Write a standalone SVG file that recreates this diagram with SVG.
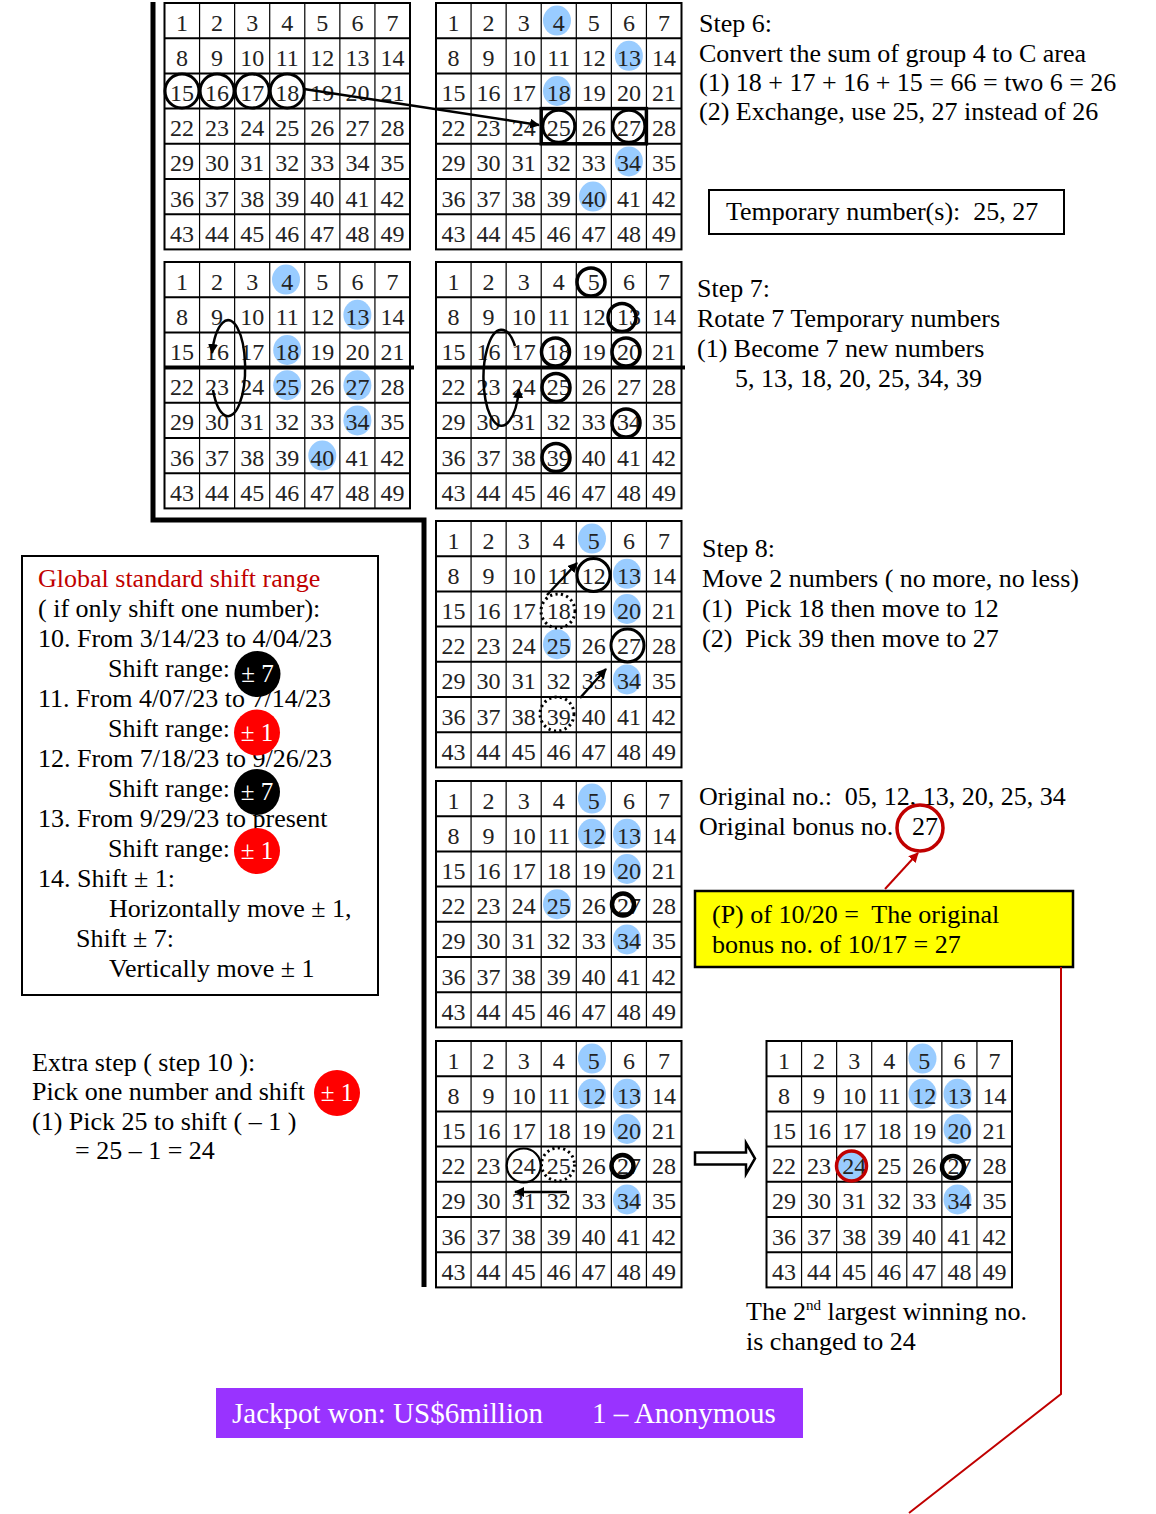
<svg xmlns="http://www.w3.org/2000/svg" xmlns:xlink="http://www.w3.org/1999/xlink" width="1156" height="1514" viewBox="0 0 1156 1514">
<style>
.n text{font-family:"Liberation Serif",serif;font-size:24px;fill:#222;text-anchor:middle}
.t{font-family:"Liberation Serif",serif;font-size:26px;fill:#000;white-space:pre}
.w{font-family:"Liberation Serif",serif;font-size:25px;fill:#fff;text-anchor:middle}
.blue{fill:#99CCFF}
.ring{fill:none;stroke:#000;stroke-width:3}
.ring4{fill:none;stroke:#000;stroke-width:3.5}
.thick{fill:none;stroke:#000;stroke-width:4.5}
.dot{fill:none;stroke:#000;stroke-width:3;stroke-dasharray:2.2 3.3}
.arr{fill:none;stroke:#000;stroke-width:2.5;marker-end:url(#ah)}
</style>
<defs>
<marker id="ah" viewBox="0 0 10 10" refX="9" refY="5" markerWidth="4" markerHeight="4" orient="auto" markerUnits="strokeWidth"><path d="M0 0L10 5L0 10z" fill="#000"/></marker>
<marker id="ahr" viewBox="0 0 10 10" refX="9" refY="5" markerWidth="5" markerHeight="5" orient="auto" markerUnits="strokeWidth"><path d="M0 0L10 5L0 10z" fill="#C00000"/></marker>
<g id="grid" fill="none" stroke="#000">
<path d="M35.07 0V246.4M70.14 0V246.4M105.21 0V246.4M140.29 0V246.4M175.36 0V246.4M210.43 0V246.4" stroke-width="1.2"/>
<path d="M0 35.2H245.5M0 70.4H245.5M0 105.6H245.5M0 140.8H245.5M0 176H245.5M0 211.2H245.5" stroke-width="2"/>
<rect x="0" y="0" width="245.5" height="246.4" stroke-width="2"/>
</g>
</defs>
<rect width="1156" height="1514" fill="#fff"/>

<g id="separator" fill="none" stroke="#000" stroke-width="5">
<path d="M153 2V520H424V1287"/>
</g>

<g id="grid1">
<use href="#grid" x="164.5" y="3"/>
<g class="n" transform="translate(164.5,3)">
<text y="27.5"><tspan x="17.5">1</tspan><tspan x="52.6">2</tspan><tspan x="87.7">3</tspan><tspan x="122.7">4</tspan><tspan x="157.8">5</tspan><tspan x="192.9">6</tspan><tspan x="228">7</tspan></text>
<text y="62.7"><tspan x="17.5">8</tspan><tspan x="52.6">9</tspan><tspan x="87.7">10</tspan><tspan x="122.7">11</tspan><tspan x="157.8">12</tspan><tspan x="192.9">13</tspan><tspan x="228">14</tspan></text>
<text y="97.9"><tspan x="17.5">15</tspan><tspan x="52.6">16</tspan><tspan x="87.7">17</tspan><tspan x="122.7">18</tspan><tspan x="157.8">19</tspan><tspan x="192.9">20</tspan><tspan x="228">21</tspan></text>
<text y="133.1"><tspan x="17.5">22</tspan><tspan x="52.6">23</tspan><tspan x="87.7">24</tspan><tspan x="122.7">25</tspan><tspan x="157.8">26</tspan><tspan x="192.9">27</tspan><tspan x="228">28</tspan></text>
<text y="168.3"><tspan x="17.5">29</tspan><tspan x="52.6">30</tspan><tspan x="87.7">31</tspan><tspan x="122.7">32</tspan><tspan x="157.8">33</tspan><tspan x="192.9">34</tspan><tspan x="228">35</tspan></text>
<text y="203.5"><tspan x="17.5">36</tspan><tspan x="52.6">37</tspan><tspan x="87.7">38</tspan><tspan x="122.7">39</tspan><tspan x="157.8">40</tspan><tspan x="192.9">41</tspan><tspan x="228">42</tspan></text>
<text y="238.7"><tspan x="17.5">43</tspan><tspan x="52.6">44</tspan><tspan x="87.7">45</tspan><tspan x="122.7">46</tspan><tspan x="157.8">47</tspan><tspan x="192.9">48</tspan><tspan x="228">49</tspan></text>
</g>
<circle class="ring" cx="182" cy="91" r="17"/>
<circle class="ring" cx="217.1" cy="91" r="17"/>
<circle class="ring" cx="252.2" cy="91" r="17"/>
<circle class="ring" cx="287.2" cy="91" r="17"/>
</g>

<g id="grid2">
<ellipse class="blue" cx="557" cy="20.6" rx="14" ry="15"/>
<ellipse class="blue" cx="628.9" cy="55.8" rx="14" ry="15"/>
<ellipse class="blue" cx="557" cy="91" rx="14" ry="15"/>
<ellipse class="blue" cx="628.9" cy="161.4" rx="14" ry="15"/>
<ellipse class="blue" cx="593" cy="196.6" rx="14" ry="15"/>
<use href="#grid" x="436" y="3"/>
<g class="n" transform="translate(436,3)">
<text y="27.5"><tspan x="17.5">1</tspan><tspan x="52.6">2</tspan><tspan x="87.7">3</tspan><tspan x="122.7">4</tspan><tspan x="157.8">5</tspan><tspan x="192.9">6</tspan><tspan x="228">7</tspan></text>
<text y="62.7"><tspan x="17.5">8</tspan><tspan x="52.6">9</tspan><tspan x="87.7">10</tspan><tspan x="122.7">11</tspan><tspan x="157.8">12</tspan><tspan x="192.9">13</tspan><tspan x="228">14</tspan></text>
<text y="97.9"><tspan x="17.5">15</tspan><tspan x="52.6">16</tspan><tspan x="87.7">17</tspan><tspan x="122.7">18</tspan><tspan x="157.8">19</tspan><tspan x="192.9">20</tspan><tspan x="228">21</tspan></text>
<text y="133.1"><tspan x="17.5">22</tspan><tspan x="52.6">23</tspan><tspan x="87.7">24</tspan><tspan x="122.7">25</tspan><tspan x="157.8">26</tspan><tspan x="192.9">27</tspan><tspan x="228">28</tspan></text>
<text y="168.3"><tspan x="17.5">29</tspan><tspan x="52.6">30</tspan><tspan x="87.7">31</tspan><tspan x="122.7">32</tspan><tspan x="157.8">33</tspan><tspan x="192.9">34</tspan><tspan x="228">35</tspan></text>
<text y="203.5"><tspan x="17.5">36</tspan><tspan x="52.6">37</tspan><tspan x="87.7">38</tspan><tspan x="122.7">39</tspan><tspan x="157.8">40</tspan><tspan x="192.9">41</tspan><tspan x="228">42</tspan></text>
<text y="238.7"><tspan x="17.5">43</tspan><tspan x="52.6">44</tspan><tspan x="87.7">45</tspan><tspan x="122.7">46</tspan><tspan x="157.8">47</tspan><tspan x="192.9">48</tspan><tspan x="228">49</tspan></text>
</g>
<rect x="541.2" y="108.6" width="105.2" height="35.2" fill="none" stroke="#000" stroke-width="3.5"/>
<circle class="ring" cx="558.8" cy="126.2" r="16"/>
<circle class="ring" cx="628.9" cy="126.2" r="16"/>
</g>

<g id="grid3">
<ellipse class="blue" cx="286" cy="279.6" rx="14" ry="15"/>
<ellipse class="blue" cx="357.4" cy="314.8" rx="14" ry="15"/>
<ellipse class="blue" cx="287.2" cy="350" rx="14" ry="15"/>
<ellipse class="blue" cx="287.2" cy="385.2" rx="14" ry="15"/>
<ellipse class="blue" cx="357.4" cy="385.2" rx="14" ry="15"/>
<ellipse class="blue" cx="357.4" cy="420.4" rx="14" ry="15"/>
<ellipse class="blue" cx="322.3" cy="455.6" rx="14" ry="15"/>
<use href="#grid" x="164.5" y="262"/>
<g class="n" transform="translate(164.5,262)">
<text y="27.5"><tspan x="17.5">1</tspan><tspan x="52.6">2</tspan><tspan x="87.7">3</tspan><tspan x="122.7">4</tspan><tspan x="157.8">5</tspan><tspan x="192.9">6</tspan><tspan x="228">7</tspan></text>
<text y="62.7"><tspan x="17.5">8</tspan><tspan x="52.6">9</tspan><tspan x="87.7">10</tspan><tspan x="122.7">11</tspan><tspan x="157.8">12</tspan><tspan x="192.9">13</tspan><tspan x="228">14</tspan></text>
<text y="97.9"><tspan x="17.5">15</tspan><tspan x="52.6">16</tspan><tspan x="87.7">17</tspan><tspan x="122.7">18</tspan><tspan x="157.8">19</tspan><tspan x="192.9">20</tspan><tspan x="228">21</tspan></text>
<text y="133.1"><tspan x="17.5">22</tspan><tspan x="52.6">23</tspan><tspan x="87.7">24</tspan><tspan x="122.7">25</tspan><tspan x="157.8">26</tspan><tspan x="192.9">27</tspan><tspan x="228">28</tspan></text>
<text y="168.3"><tspan x="17.5">29</tspan><tspan x="52.6">30</tspan><tspan x="87.7">31</tspan><tspan x="122.7">32</tspan><tspan x="157.8">33</tspan><tspan x="192.9">34</tspan><tspan x="228">35</tspan></text>
<text y="203.5"><tspan x="17.5">36</tspan><tspan x="52.6">37</tspan><tspan x="87.7">38</tspan><tspan x="122.7">39</tspan><tspan x="157.8">40</tspan><tspan x="192.9">41</tspan><tspan x="228">42</tspan></text>
<text y="238.7"><tspan x="17.5">43</tspan><tspan x="52.6">44</tspan><tspan x="87.7">45</tspan><tspan x="122.7">46</tspan><tspan x="157.8">47</tspan><tspan x="192.9">48</tspan><tspan x="228">49</tspan></text>
</g>
<path d="M164.5 367.6H414" stroke="#000" stroke-width="4"/>
<path class="arr" d="M213 390A17 48 0 1 0 212 353"/>
</g>

<g id="grid4">
<use href="#grid" x="436" y="262"/>
<g class="n" transform="translate(436,262)">
<text y="27.5"><tspan x="17.5">1</tspan><tspan x="52.6">2</tspan><tspan x="87.7">3</tspan><tspan x="122.7">4</tspan><tspan x="157.8">5</tspan><tspan x="192.9">6</tspan><tspan x="228">7</tspan></text>
<text y="62.7"><tspan x="17.5">8</tspan><tspan x="52.6">9</tspan><tspan x="87.7">10</tspan><tspan x="122.7">11</tspan><tspan x="157.8">12</tspan><tspan x="192.9">13</tspan><tspan x="228">14</tspan></text>
<text y="97.9"><tspan x="17.5">15</tspan><tspan x="52.6">16</tspan><tspan x="87.7">17</tspan><tspan x="122.7">18</tspan><tspan x="157.8">19</tspan><tspan x="192.9">20</tspan><tspan x="228">21</tspan></text>
<text y="133.1"><tspan x="17.5">22</tspan><tspan x="52.6">23</tspan><tspan x="87.7">24</tspan><tspan x="122.7">25</tspan><tspan x="157.8">26</tspan><tspan x="192.9">27</tspan><tspan x="228">28</tspan></text>
<text y="168.3"><tspan x="17.5">29</tspan><tspan x="52.6">30</tspan><tspan x="87.7">31</tspan><tspan x="122.7">32</tspan><tspan x="157.8">33</tspan><tspan x="192.9">34</tspan><tspan x="228">35</tspan></text>
<text y="203.5"><tspan x="17.5">36</tspan><tspan x="52.6">37</tspan><tspan x="87.7">38</tspan><tspan x="122.7">39</tspan><tspan x="157.8">40</tspan><tspan x="192.9">41</tspan><tspan x="228">42</tspan></text>
<text y="238.7"><tspan x="17.5">43</tspan><tspan x="52.6">44</tspan><tspan x="87.7">45</tspan><tspan x="122.7">46</tspan><tspan x="157.8">47</tspan><tspan x="192.9">48</tspan><tspan x="228">49</tspan></text>
</g>
<path d="M436 367.6H685" stroke="#000" stroke-width="4"/>
<circle class="ring4" cx="591" cy="282" r="14"/>
<circle class="ring4" cx="622" cy="317.5" r="14"/>
<circle class="ring4" cx="555.5" cy="352" r="14"/>
<circle class="ring4" cx="626" cy="352" r="14"/>
<circle class="ring4" cx="556" cy="387.5" r="14"/>
<circle class="ring4" cx="626" cy="423" r="14"/>
<circle class="ring4" cx="556" cy="457.5" r="14"/>
<path class="arr" d="M515 346A18 48 0 1 0 519 389"/>
</g>

<g id="grid5">
<ellipse class="blue" cx="592" cy="538.6" rx="14" ry="15"/>
<ellipse class="blue" cx="627" cy="573.8" rx="14" ry="15"/>
<ellipse class="blue" cx="627" cy="609" rx="14" ry="15"/>
<ellipse class="blue" cx="557" cy="644.2" rx="14" ry="15"/>
<ellipse class="blue" cx="627" cy="679.4" rx="14" ry="15"/>
<use href="#grid" x="436" y="521"/>
<g class="n" transform="translate(436,521)">
<text y="27.5"><tspan x="17.5">1</tspan><tspan x="52.6">2</tspan><tspan x="87.7">3</tspan><tspan x="122.7">4</tspan><tspan x="157.8">5</tspan><tspan x="192.9">6</tspan><tspan x="228">7</tspan></text>
<text y="62.7"><tspan x="17.5">8</tspan><tspan x="52.6">9</tspan><tspan x="87.7">10</tspan><tspan x="122.7">11</tspan><tspan x="157.8">12</tspan><tspan x="192.9">13</tspan><tspan x="228">14</tspan></text>
<text y="97.9"><tspan x="17.5">15</tspan><tspan x="52.6">16</tspan><tspan x="87.7">17</tspan><tspan x="122.7">18</tspan><tspan x="157.8">19</tspan><tspan x="192.9">20</tspan><tspan x="228">21</tspan></text>
<text y="133.1"><tspan x="17.5">22</tspan><tspan x="52.6">23</tspan><tspan x="87.7">24</tspan><tspan x="122.7">25</tspan><tspan x="157.8">26</tspan><tspan x="192.9">27</tspan><tspan x="228">28</tspan></text>
<text y="168.3"><tspan x="17.5">29</tspan><tspan x="52.6">30</tspan><tspan x="87.7">31</tspan><tspan x="122.7">32</tspan><tspan x="157.8">33</tspan><tspan x="192.9">34</tspan><tspan x="228">35</tspan></text>
<text y="203.5"><tspan x="17.5">36</tspan><tspan x="52.6">37</tspan><tspan x="87.7">38</tspan><tspan x="122.7">39</tspan><tspan x="157.8">40</tspan><tspan x="192.9">41</tspan><tspan x="228">42</tspan></text>
<text y="238.7"><tspan x="17.5">43</tspan><tspan x="52.6">44</tspan><tspan x="87.7">45</tspan><tspan x="122.7">46</tspan><tspan x="157.8">47</tspan><tspan x="192.9">48</tspan><tspan x="228">49</tspan></text>
</g>
<circle class="ring" cx="593.5" cy="575" r="16.5"/>
<circle class="ring" cx="627.5" cy="645.5" r="16.5"/>
<circle class="dot" cx="558" cy="611" r="17"/>
<circle class="dot" cx="557" cy="714" r="17"/>
<path class="arr" d="M547 595L577 563"/>
<path class="arr" d="M580 698L606 669"/>
</g>

<g id="grid6">
<ellipse class="blue" cx="592" cy="798.6" rx="14" ry="15"/>
<ellipse class="blue" cx="592" cy="833.8" rx="14" ry="15"/>
<ellipse class="blue" cx="627" cy="833.8" rx="14" ry="15"/>
<ellipse class="blue" cx="627" cy="869" rx="14" ry="15"/>
<ellipse class="blue" cx="557" cy="904.2" rx="14" ry="15"/>
<ellipse class="blue" cx="627" cy="939.4" rx="14" ry="15"/>
<use href="#grid" x="436" y="781"/>
<g class="n" transform="translate(436,781)">
<text y="27.5"><tspan x="17.5">1</tspan><tspan x="52.6">2</tspan><tspan x="87.7">3</tspan><tspan x="122.7">4</tspan><tspan x="157.8">5</tspan><tspan x="192.9">6</tspan><tspan x="228">7</tspan></text>
<text y="62.7"><tspan x="17.5">8</tspan><tspan x="52.6">9</tspan><tspan x="87.7">10</tspan><tspan x="122.7">11</tspan><tspan x="157.8">12</tspan><tspan x="192.9">13</tspan><tspan x="228">14</tspan></text>
<text y="97.9"><tspan x="17.5">15</tspan><tspan x="52.6">16</tspan><tspan x="87.7">17</tspan><tspan x="122.7">18</tspan><tspan x="157.8">19</tspan><tspan x="192.9">20</tspan><tspan x="228">21</tspan></text>
<text y="133.1"><tspan x="17.5">22</tspan><tspan x="52.6">23</tspan><tspan x="87.7">24</tspan><tspan x="122.7">25</tspan><tspan x="157.8">26</tspan><tspan x="192.9">27</tspan><tspan x="228">28</tspan></text>
<text y="168.3"><tspan x="17.5">29</tspan><tspan x="52.6">30</tspan><tspan x="87.7">31</tspan><tspan x="122.7">32</tspan><tspan x="157.8">33</tspan><tspan x="192.9">34</tspan><tspan x="228">35</tspan></text>
<text y="203.5"><tspan x="17.5">36</tspan><tspan x="52.6">37</tspan><tspan x="87.7">38</tspan><tspan x="122.7">39</tspan><tspan x="157.8">40</tspan><tspan x="192.9">41</tspan><tspan x="228">42</tspan></text>
<text y="238.7"><tspan x="17.5">43</tspan><tspan x="52.6">44</tspan><tspan x="87.7">45</tspan><tspan x="122.7">46</tspan><tspan x="157.8">47</tspan><tspan x="192.9">48</tspan><tspan x="228">49</tspan></text>
</g>
<circle class="thick" cx="623" cy="904.5" r="11"/>
</g>

<g id="grid7">
<ellipse class="blue" cx="592" cy="1058.6" rx="14" ry="15"/>
<ellipse class="blue" cx="592" cy="1093.8" rx="14" ry="15"/>
<ellipse class="blue" cx="627" cy="1093.8" rx="14" ry="15"/>
<ellipse class="blue" cx="627" cy="1129" rx="14" ry="15"/>
<ellipse class="blue" cx="627" cy="1199.4" rx="14" ry="15"/>
<use href="#grid" x="436" y="1041"/>
<g class="n" transform="translate(436,1041)">
<text y="27.5"><tspan x="17.5">1</tspan><tspan x="52.6">2</tspan><tspan x="87.7">3</tspan><tspan x="122.7">4</tspan><tspan x="157.8">5</tspan><tspan x="192.9">6</tspan><tspan x="228">7</tspan></text>
<text y="62.7"><tspan x="17.5">8</tspan><tspan x="52.6">9</tspan><tspan x="87.7">10</tspan><tspan x="122.7">11</tspan><tspan x="157.8">12</tspan><tspan x="192.9">13</tspan><tspan x="228">14</tspan></text>
<text y="97.9"><tspan x="17.5">15</tspan><tspan x="52.6">16</tspan><tspan x="87.7">17</tspan><tspan x="122.7">18</tspan><tspan x="157.8">19</tspan><tspan x="192.9">20</tspan><tspan x="228">21</tspan></text>
<text y="133.1"><tspan x="17.5">22</tspan><tspan x="52.6">23</tspan><tspan x="87.7">24</tspan><tspan x="122.7">25</tspan><tspan x="157.8">26</tspan><tspan x="192.9">27</tspan><tspan x="228">28</tspan></text>
<text y="168.3"><tspan x="17.5">29</tspan><tspan x="52.6">30</tspan><tspan x="87.7">31</tspan><tspan x="122.7">32</tspan><tspan x="157.8">33</tspan><tspan x="192.9">34</tspan><tspan x="228">35</tspan></text>
<text y="203.5"><tspan x="17.5">36</tspan><tspan x="52.6">37</tspan><tspan x="87.7">38</tspan><tspan x="122.7">39</tspan><tspan x="157.8">40</tspan><tspan x="192.9">41</tspan><tspan x="228">42</tspan></text>
<text y="238.7"><tspan x="17.5">43</tspan><tspan x="52.6">44</tspan><tspan x="87.7">45</tspan><tspan x="122.7">46</tspan><tspan x="157.8">47</tspan><tspan x="192.9">48</tspan><tspan x="228">49</tspan></text>
</g>
<circle cx="523.7" cy="1165.5" r="17" fill="none" stroke="#000" stroke-width="2.2"/>
<circle class="dot" cx="558" cy="1164.5" r="16.5"/>
<circle class="thick" cx="622.5" cy="1166" r="11"/>
<path class="arr" d="M567 1192H515"/>
</g>

<g id="grid8">
<ellipse class="blue" cx="922.5" cy="1058.6" rx="14" ry="15"/>
<ellipse class="blue" cx="922.5" cy="1093.8" rx="14" ry="15"/>
<ellipse class="blue" cx="957.5" cy="1093.8" rx="14" ry="15"/>
<ellipse class="blue" cx="957.5" cy="1129" rx="14" ry="15"/>
<ellipse class="blue" cx="851.5" cy="1165.5" rx="14" ry="15"/>
<ellipse class="blue" cx="957.5" cy="1199.4" rx="14" ry="15"/>
<use href="#grid" x="766.5" y="1041"/>
<g class="n" transform="translate(766.5,1041)">
<text y="27.5"><tspan x="17.5">1</tspan><tspan x="52.6">2</tspan><tspan x="87.7">3</tspan><tspan x="122.7">4</tspan><tspan x="157.8">5</tspan><tspan x="192.9">6</tspan><tspan x="228">7</tspan></text>
<text y="62.7"><tspan x="17.5">8</tspan><tspan x="52.6">9</tspan><tspan x="87.7">10</tspan><tspan x="122.7">11</tspan><tspan x="157.8">12</tspan><tspan x="192.9">13</tspan><tspan x="228">14</tspan></text>
<text y="97.9"><tspan x="17.5">15</tspan><tspan x="52.6">16</tspan><tspan x="87.7">17</tspan><tspan x="122.7">18</tspan><tspan x="157.8">19</tspan><tspan x="192.9">20</tspan><tspan x="228">21</tspan></text>
<text y="133.1"><tspan x="17.5">22</tspan><tspan x="52.6">23</tspan><tspan x="87.7">24</tspan><tspan x="122.7">25</tspan><tspan x="157.8">26</tspan><tspan x="192.9">27</tspan><tspan x="228">28</tspan></text>
<text y="168.3"><tspan x="17.5">29</tspan><tspan x="52.6">30</tspan><tspan x="87.7">31</tspan><tspan x="122.7">32</tspan><tspan x="157.8">33</tspan><tspan x="192.9">34</tspan><tspan x="228">35</tspan></text>
<text y="203.5"><tspan x="17.5">36</tspan><tspan x="52.6">37</tspan><tspan x="87.7">38</tspan><tspan x="122.7">39</tspan><tspan x="157.8">40</tspan><tspan x="192.9">41</tspan><tspan x="228">42</tspan></text>
<text y="238.7"><tspan x="17.5">43</tspan><tspan x="52.6">44</tspan><tspan x="87.7">45</tspan><tspan x="122.7">46</tspan><tspan x="157.8">47</tspan><tspan x="192.9">48</tspan><tspan x="228">49</tspan></text>
</g>
<circle cx="851.5" cy="1166" r="15" fill="none" stroke="#C00000" stroke-width="3.5"/>
<circle class="thick" cx="953" cy="1167" r="11"/>
</g>

<g id="step6">
<text class="t" x="699" y="32">Step 6:</text>
<text class="t" x="699" y="62">Convert the sum of group 4 to C area</text>
<text class="t" x="699" y="91">(1) 18 + 17 + 16 + 15 = 66 = two 6 = 26</text>
<text class="t" x="699" y="120">(2) Exchange, use 25, 27 instead of 26</text>
</g>

<g id="temporary">
<rect x="709" y="190" width="355" height="44" fill="#fff" stroke="#000" stroke-width="2"/>
<text class="t" x="726" y="220">Temporary number(s):  25, 27</text>
</g>

<g id="step7">
<text class="t" x="697" y="297">Step 7:</text>
<text class="t" x="697" y="327">Rotate 7 Temporary numbers</text>
<text class="t" x="697" y="357">(1) Become 7 new numbers</text>
<text class="t" x="735" y="387">5, 13, 18, 20, 25, 34, 39</text>
</g>

<g id="step8">
<text class="t" x="702" y="557">Step 8:</text>
<text class="t" x="702" y="587">Move 2 numbers ( no more, no less)</text>
<text class="t" x="702" y="617">(1)  Pick 18 then move to 12</text>
<text class="t" x="702" y="647">(2)  Pick 39 then move to 27</text>
</g>

<g id="global-range">
<rect x="22" y="556" width="356" height="439" fill="#fff" stroke="#000" stroke-width="2"/>
<text class="t" x="38" y="587" style="fill:#C00000">Global standard shift range</text>
<text class="t" x="38" y="617">( if only shift one number):</text>
<text class="t" x="38" y="647">10. From 3/14/23 to 4/04/23</text>
<text class="t" x="108" y="677">Shift range:</text>
<text class="t" x="38" y="707">11. From 4/07/23 to 7/14/23</text>
<text class="t" x="108" y="737">Shift range:</text>
<text class="t" x="38" y="767">12. From 7/18/23 to 9/26/23</text>
<text class="t" x="108" y="797">Shift range:</text>
<text class="t" x="38" y="827">13. From 9/29/23 to present</text>
<text class="t" x="108" y="857">Shift range:</text>
<text class="t" x="38" y="887">14. Shift ± 1:</text>
<text class="t" x="109" y="917">Horizontally move ± 1,</text>
<text class="t" x="76" y="947">Shift ± 7:</text>
<text class="t" x="109" y="977">Vertically move ± 1</text>
<circle cx="257.5" cy="674" r="23" fill="#000"/>
<text class="w" x="257.5" y="682">± 7</text>
<circle cx="257" cy="732.5" r="23" fill="#FF0000"/>
<text class="w" x="257" y="740.5">± 1</text>
<circle cx="257" cy="792" r="23" fill="#000"/>
<text class="w" x="257" y="800">± 7</text>
<circle cx="257" cy="851" r="23" fill="#FF0000"/>
<text class="w" x="257" y="859">± 1</text>
</g>

<g id="extra-step">
<text class="t" x="32" y="1071">Extra step ( step 10 ):</text>
<text class="t" x="32" y="1100">Pick one number and shift</text>
<text class="t" x="32" y="1130">(1) Pick 25 to shift ( – 1 )</text>
<text class="t" x="75" y="1159">= 25 – 1 = 24</text>
<circle cx="337" cy="1093" r="23" fill="#FF0000"/>
<text class="w" x="337" y="1101">± 1</text>
</g>

<g id="original">
<text class="t" x="699" y="805">Original no.:  05, 12, 13, 20, 25, 34</text>
<text class="t" x="699" y="835">Original bonus no.</text>
<text class="t" x="925" y="835" style="text-anchor:middle">27</text>
<circle cx="920" cy="828" r="23" fill="none" stroke="#C00000" stroke-width="3.5"/>
</g>

<g id="p-note">
<rect x="695" y="891" width="378" height="76" fill="#FFFF00" stroke="#000" stroke-width="2.5"/>
<text class="t" x="712" y="923">(P) of 10/20 =  The original</text>
<text class="t" x="712" y="953">bonus no. of 10/17 = 27</text>
</g>

<g id="result-note">
<text class="t" x="746" y="1320">The 2<tspan font-size="15" dy="-10">nd</tspan><tspan dy="10"> largest winning no.</tspan></text>
<text class="t" x="746" y="1350">is changed to 24</text>
</g>

<g id="jackpot">
<rect x="216" y="1388" width="587" height="50" fill="#9933FF"/>
<text class="t" x="232" y="1423" style="fill:#fff;font-size:29px">Jackpot won: US$6million</text>
<text class="t" x="592" y="1423" style="fill:#fff;font-size:29px">1 – Anonymous</text>
</g>

<g id="connectors">
<path class="arr" d="M304 89L539 125"/>
<path d="M885 889L918 853" fill="none" stroke="#C00000" stroke-width="2" marker-end="url(#ahr)"/>
<path d="M1061 967V1394L909 1513" fill="none" stroke="#C00000" stroke-width="2"/>
<path d="M695 1152.5H746V1143L755 1158.5L746 1174V1164.5H695Z" fill="#fff" stroke="#000" stroke-width="2.5"/>
</g>
</svg>
